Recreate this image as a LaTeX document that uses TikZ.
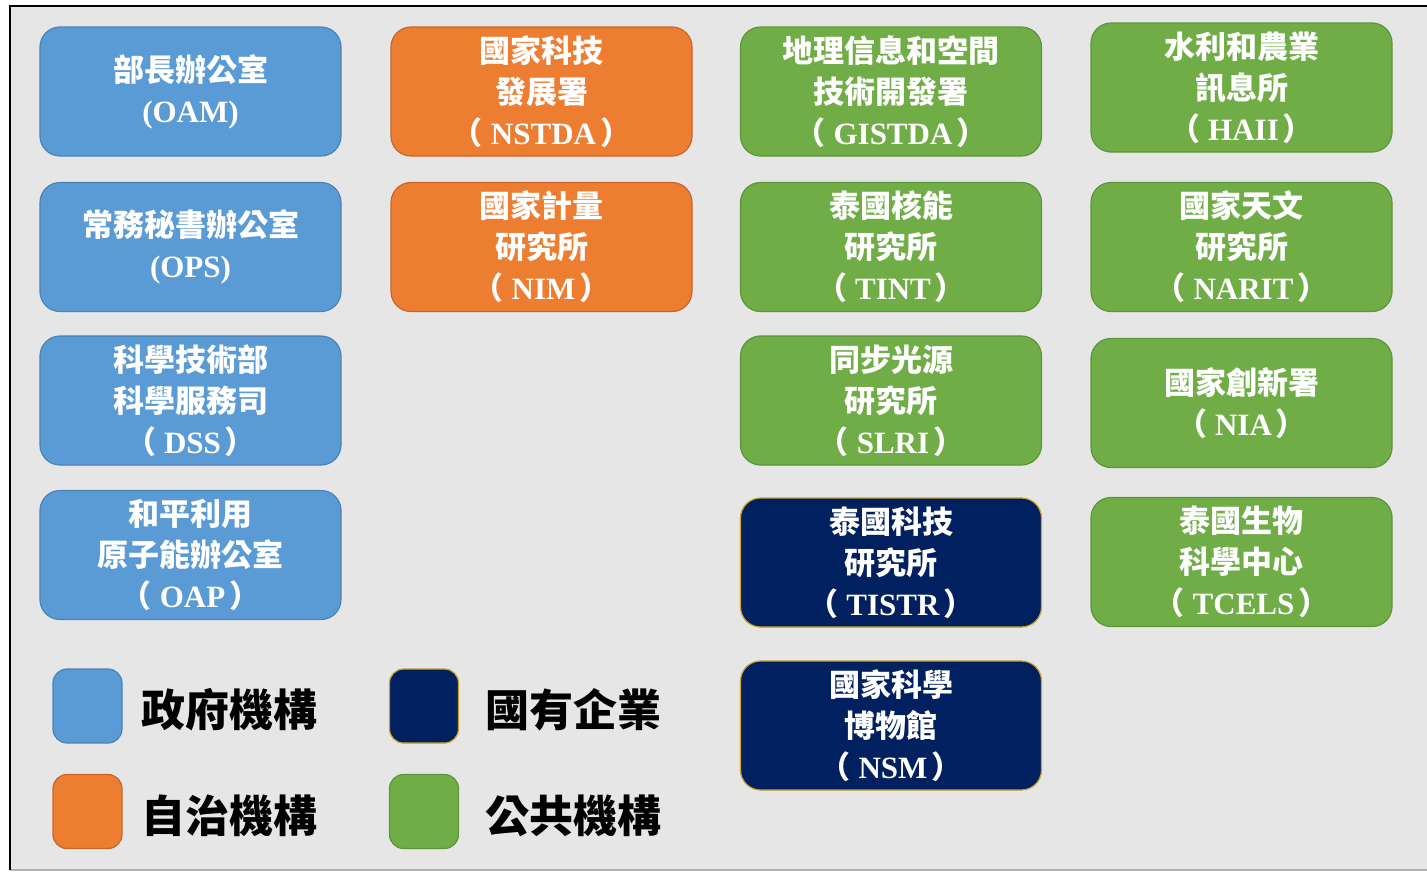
\documentclass[tikz,border=0pt]{standalone}
\usepackage{fontspec}
\usetikzlibrary{positioning}
\setmainfont{Liberation Serif}
\newfontfamily\cjk{Noto Sans CJK TC}

\definecolor{govfill}{HTML}{5B9BD5}
\definecolor{govline}{HTML}{4A83B8}
\definecolor{autofill}{HTML}{ED7D31}
\definecolor{autoline}{HTML}{C9652A}
\definecolor{pubfill}{HTML}{70AD47}
\definecolor{publine}{HTML}{5E953B}
\definecolor{soefill}{HTML}{002060}
\definecolor{soeline}{HTML}{C9A227}
\definecolor{paper}{HTML}{E6E6E6}

\tikzstyle{org}=[rounded corners=10pt,minimum width=150.5pt,minimum height=64.5pt,inner sep=0pt,align=center,text=white,line width=0.6pt,font=\cjk\bfseries\fontsize{15.5}{20.5}\selectfont]
\tikzstyle{govbox}=[org,draw=govline,fill=govfill]
\tikzstyle{autobox}=[org,draw=autoline,fill=autofill]
\tikzstyle{pubbox}=[org,draw=publine,fill=pubfill]
\tikzstyle{soebox}=[org,draw=soeline,fill=soefill]
\tikzstyle{swatch}=[rounded corners=7pt,minimum width=34.5pt,minimum height=37pt]
\tikzstyle{swatchtext}=[font=\cjk\bfseries\fontsize{22}{26}\selectfont,text=black,inner sep=0pt]

\newcommand{\ab}[1]{（\kern4pt{\rmfamily #1}\kern2pt）}
\newcommand{\abh}[1]{{\rmfamily (#1)}}

\begin{document}
\begin{tikzpicture}[x=0.5pt,y=-0.5pt]
	\useasboundingbox (0,0) rectangle (1427,873);
	\fill[paper] (10,6) rectangle (1427,870);
	\draw[gray!60,line width=1pt] (10,870) -- (1427,870);
	\draw[line width=1.3pt] (10,870) -- (10,6) -- (1427,6);

	% government
	\node (OAM)[govbox] at (190.5,91.5) {部長辦公室\\\abh{OAM}};
	\node (OPS)[govbox] at (190.5,247) {常務秘書辦公室\\\abh{OPS}};
	\node (DSS)[govbox] at (190.5,400.5) {科學技術部\\科學服務司\\\ab{DSS}};
	\node (OAP)[govbox] at (190.5,555) {和平利用\\原子能辦公室\\\ab{OAP}};

	% autonomous
	\node (NSTDA)[autobox] at (541.5,91.5) {國家科技\\發展署\\\ab{NSTDA}};
	\node (NIM)[autobox] at (541.5,247) {國家計量\\研究所\\\ab{NIM}};

	% public
	\node (GISTDA)[pubbox] at (891,91.5) {地理信息和空間\\技術開發署\\\ab{GISTDA}};
	\node (TINT)[pubbox] at (891,247) {泰國核能\\研究所\\\ab{TINT}};
	\node (SLRI)[pubbox] at (891,400.5) {同步光源\\研究所\\\ab{SLRI}};
	\node (HAII)[pubbox] at (1241.5,87.5) {水利和農業\\訊息所\\\ab{HAII}};
	\node (NARIT)[pubbox] at (1241.5,247) {國家天文\\研究所\\\ab{NARIT}};
	\node (NIA)[pubbox] at (1241.5,403) {國家創新署\\\ab{NIA}};
	\node (TCELS)[pubbox] at (1241.5,562) {泰國生物\\科學中心\\\ab{TCELS}};

	% state-owned
	\node (TISTR)[soebox] at (891,562.5) {泰國科技\\研究所\\\ab{TISTR}};
	\node (NSM)[soebox] at (891,725.5) {國家科學\\博物館\\\ab{NSM}};

	% legend
	\foreach \x/\y/\s/\g/\t [count=\i] in {87.5/706/govbox/9/政府機構, 87.5/811.5/autobox/9/自治機構, 424/706/soebox/13/國有企業, 424/811.5/pubbox/13/公共機構}{
		\node (K\i)[\s,swatch] at (\x,\y) {};
		\node (T\i)[swatchtext,right=\g pt of K\i,yshift=-2pt] {\t};
	}
\end{tikzpicture}
\end{document}
